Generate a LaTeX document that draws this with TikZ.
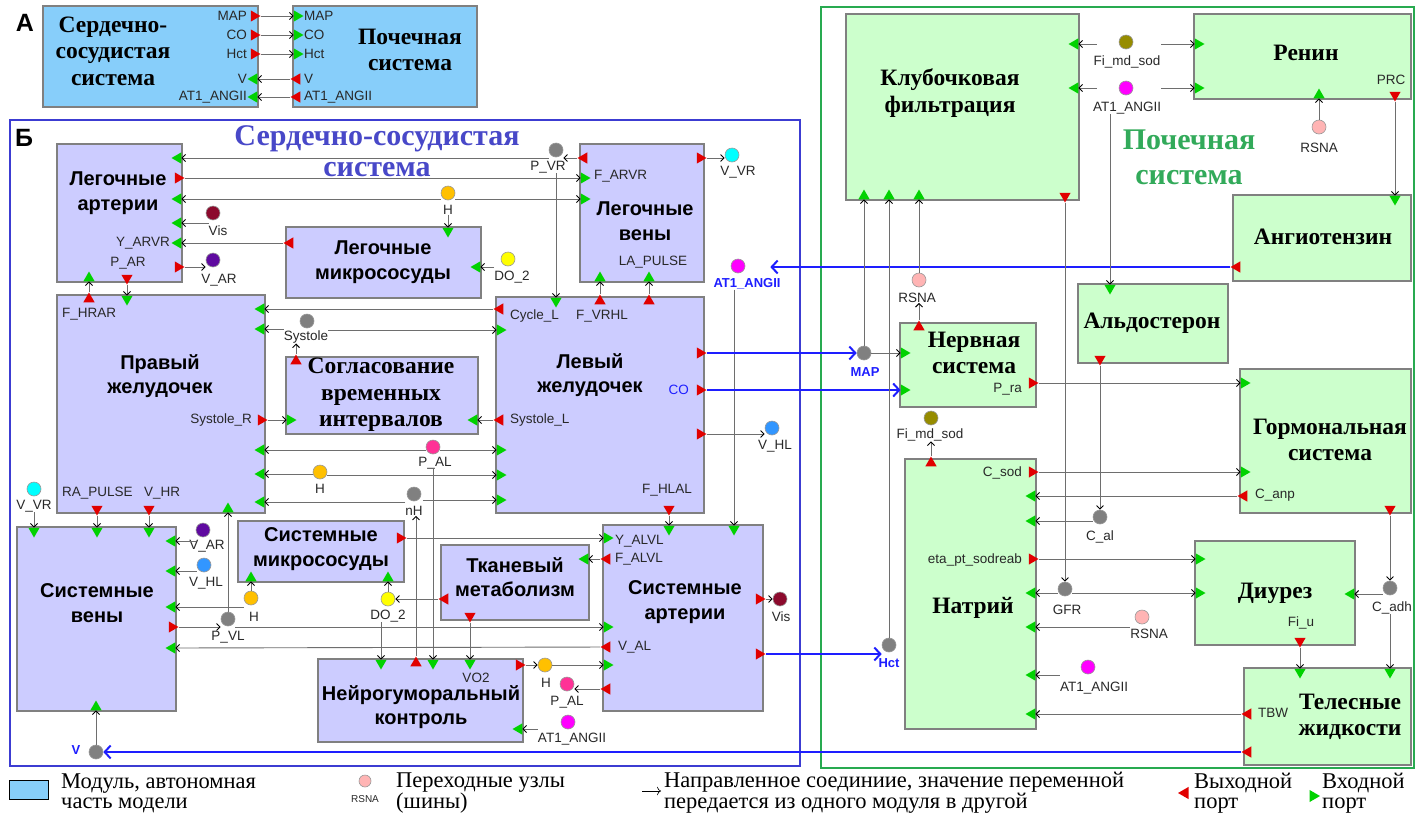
\documentclass[tikz,border=0pt]{standalone}
\usepackage{fontspec}
\setmainfont{Liberation Serif}
\setsansfont{Liberation Sans}
\usetikzlibrary{shapes.geometric,arrows.meta,fit,calc}

\definecolor{skyfill}{RGB}{135,206,250}
\definecolor{cvfill}{RGB}{204,204,255}
\definecolor{renfill}{RGB}{204,255,204}
\definecolor{boxgray}{RGB}{128,128,128}
\definecolor{frameblue}{RGB}{60,60,210}
\definecolor{framegreen}{RGB}{40,170,80}
\definecolor{titblue}{RGB}{72,72,200}
\definecolor{titgreen}{RGB}{50,170,90}
\definecolor{linkblue}{RGB}{30,30,255}
\definecolor{linegray}{RGB}{110,110,110}
\definecolor{txtgray}{RGB}{40,40,40}
\definecolor{pred}{RGB}{225,0,0}
\definecolor{pgreen}{RGB}{0,210,0}
\definecolor{bgray}{RGB}{128,128,128}
\definecolor{borange}{RGB}{255,192,0}
\definecolor{bdarkred}{RGB}{140,10,45}
\definecolor{bpurple}{RGB}{95,10,160}
\definecolor{bcyan}{RGB}{0,255,255}
\definecolor{byellow}{RGB}{255,255,0}
\definecolor{bmagenta}{RGB}{255,0,255}
\definecolor{bpink}{RGB}{255,50,150}
\definecolor{bblue}{RGB}{50,150,255}
\definecolor{bolive}{RGB}{150,140,0}
\definecolor{brsna}{RGB}{255,180,180}

\begin{document}
\begin{tikzpicture}[x=1pt,y=-1pt]

\tikzstyle{amod} = [draw=boxgray, fill=skyfill, line width=1.3pt, inner sep=0pt]
\tikzstyle{cmod} = [draw=boxgray, fill=cvfill, line width=1.3pt, inner sep=0pt]
\tikzstyle{rmod} = [draw=boxgray, fill=renfill, line width=1.3pt, inner sep=0pt]
\tikzstyle{stit} = [font=\sffamily\bfseries\fontsize{20}{24.5}\selectfont, align=center, inner sep=0pt]
\tikzstyle{rtit} = [font=\rmfamily\bfseries\fontsize{23.5}{26.5}\selectfont, align=center, inner sep=0pt]
\tikzstyle{dummy} = [font=\sffamily\fontsize{13.5}{14}\selectfont, text=txtgray, inner sep=0pt]
\tikzstyle{blab} = [font=\sffamily\bfseries\fontsize{13}{14}\selectfont, text=linkblue, inner sep=0pt]
\tikzstyle{bus} = [circle, draw=black!40, minimum size=14pt, inner sep=0pt, line width=0.6pt]
\tikzstyle{port} = [regular polygon, regular polygon sides=3, inner sep=0pt, minimum size=13pt]
\tikzstyle{inR} = [port, rotate=-90, fill=pgreen]
\tikzstyle{inL} = [port, rotate=90, fill=pgreen]
\tikzstyle{inU} = [port, fill=pgreen]
\tikzstyle{inD} = [port, rotate=180, fill=pgreen]
\tikzstyle{outR} = [port, rotate=-90, fill=pred]
\tikzstyle{outL} = [port, rotate=90, fill=pred]
\tikzstyle{outU} = [port, fill=pred]
\tikzstyle{outD} = [port, rotate=180, fill=pred]
\tikzstyle{conn} = [draw=linegray, line width=0.9pt, -{Straight Barb[length=3.5pt,width=7pt,color=black]}]
\tikzstyle{bconn} = [draw=linkblue, line width=2pt, -{Straight Barb[length=6pt,width=13pt]}]
\tikzstyle{legtxt} = [font=\rmfamily\fontsize{22.5}{20}\selectfont, align=left, anchor=west, inner sep=0pt]

\path[use as bounding box, fill=white] (0,0) rectangle (1418,825);

% panel A
\node[font=\sffamily\bfseries\fontsize{25}{25}\selectfont, inner sep=0pt] at (25,23) (labA) {А};
\node[amod, fit={(43,6) (258,107)}] (acv) {};
\node[amod, fit={(293,6) (477,107)}] (aren) {};
\node[rtit] at (113,51) (tacv) {Сердечно-\\сосудистая\\система};
\node[rtit] at (410,50) (taren) {Почечная\\система};

\node[outR] at (254,16) (ao1) {};
\node[outR] at (254,35) (ao2) {};
\node[outR] at (254,54) (ao3) {};
\node[inL] at (254,79) (ai4) {};
\node[inL] at (254,97) (ai5) {};
\node[inR] at (297,16) (ai1) {};
\node[inR] at (297,35) (ai2) {};
\node[inR] at (297,54) (ai3) {};
\node[outL] at (297,79) (ao4) {};
\node[outL] at (297,97) (ao5) {};
\node[dummy, anchor=east] at (247,16) (da1) {MAP};
\node[dummy, anchor=east] at (247,35) (da2) {CO};
\node[dummy, anchor=east] at (247,54) (da3) {Hct};
\node[dummy, anchor=east] at (247,79) (da4) {V};
\node[dummy, anchor=east] at (247,97) (da5) {AT1\_ANGII};
\node[dummy, anchor=west] at (304,16) (db1) {MAP};
\node[dummy, anchor=west] at (304,35) (db2) {CO};
\node[dummy, anchor=west] at (304,54) (db3) {Hct};
\node[dummy, anchor=west] at (304,79) (db4) {V};
\node[dummy, anchor=west] at (304,97) (db5) {AT1\_ANGII};
\path (ao1) edge[conn] (ai1);
\path (ao2) edge[conn] (ai2);
\path (ao3) edge[conn] (ai3);
\path (ao4) edge[conn] (ai4);
\path (ao5) edge[conn] (ai5);

% frames of panel B
\node[draw=frameblue, line width=1.6pt, inner sep=0pt, fit={(10,120) (800,766)}] (fcv) {};
\node[draw=framegreen, line width=1.6pt, inner sep=0pt, fit={(821,7) (1414,768)}] (fren) {};
\node[font=\sffamily\bfseries\fontsize{25}{25}\selectfont, inner sep=0pt] at (24,138) (labB) {Б};
\node[font=\rmfamily\bfseries\fontsize{30}{31}\selectfont, text=titblue, align=center, inner sep=0pt] at (377,151) (tcv) {Сердечно-сосудистая\\система};
\node[font=\rmfamily\bfseries\fontsize{30}{35}\selectfont, text=titgreen, align=center, inner sep=0pt] at (1189,157) (tren) {Почечная\\система};

% cardiovascular modules
\node[cmod, fit={(57,144) (182,282)}] (la) {};
\node[cmod, fit={(286,227) (481,298)}] (lmc) {};
\node[cmod, fit={(580,144) (704,282)}] (lv) {};
\node[cmod, fit={(57,295) (265,513)}] (rv) {};
\node[cmod, fit={(286,357) (478,434)}] (sync) {};
\node[cmod, fit={(496,297) (704,513)}] (lvent) {};
\node[cmod, fit={(17,527) (176,711)}] (sv) {};
\node[cmod, fit={(238,521) (404,582)}] (smc) {};
\node[cmod, fit={(441,545) (589,620)}] (tm) {};
\node[cmod, fit={(318,659) (523,742)}] (nhc) {};
\node[cmod, fit={(603,525) (763,711)}] (sa) {};

\node[stit] at (118,193) (tla) {Легочные\\артерии};
\node[stit] at (383,262) (tlmc) {Легочные\\микрососуды};
\node[stit] at (645,221) (tlv) {Легочные\\вены};
\node[stit] at (160,376) (trv) {Правый\\желудочек};
\node[rtit] at (381,395) (tsync) {Согласование\\временных\\интервалов};
\node[stit] at (590,375) (tlvent) {Левый\\желудочек};
\node[stit] at (97,603) (tsv) {Системные\\вены};
\node[stit] at (321,549) (tsmc) {Системные\\микрососуды};
\node[stit] at (515,577) (ttm) {Тканевый\\метаболизм};
\node[stit] at (421,707) (tnhc) {Нейрогуморальный\\контроль};
\node[stit] at (685,602) (tsa) {Системные\\артерии};

% ports
\node[inL] at (178,158) (la-i1) {};
\node[outR] at (178,178) (la-o1) {};
\node[inL] at (178,199) (la-i2) {};
\node[inL] at (178,223) (la-i3) {};
\node[inL] at (178,243) (la-i4) {};
\node[outR] at (178,267) (la-o2) {};
\node[inU] at (89,278) (la-i5) {};
\node[outD] at (127,278) (la-o3) {};

\node[outU] at (89,299) (rv-o1) {};
\node[inD] at (127,299) (rv-i1) {};
\node[inL] at (261,309) (rv-i2) {};
\node[inL] at (261,329) (rv-i3) {};
\node[outR] at (261,420) (rv-o2) {};
\node[inL] at (261,450) (rv-i4) {};
\node[inL] at (261,474) (rv-i5) {};
\node[inL] at (261,502) (rv-i6) {};
\node[outD] at (97,509) (rv-o3) {};
\node[outD] at (149,509) (rv-o4) {};
\node[inU] at (228,509) (rv-i7) {};

\node[inD] at (34,531) (sv-i1) {};
\node[inD] at (97,531) (sv-i2) {};
\node[inD] at (149,531) (sv-i3) {};
\node[inL] at (172,541) (sv-i4) {};
\node[inL] at (172,571) (sv-i5) {};
\node[inL] at (172,607) (sv-i6) {};
\node[outR] at (172,627) (sv-o1) {};
\node[inL] at (172,648) (sv-i7) {};
\node[inU] at (96,707) (sv-i8) {};

\node[inD] at (448,231) (lmc-i1) {};
\node[outL] at (290,243) (lmc-o1) {};
\node[inL] at (477,267) (lmc-i2) {};

\node[outU] at (296,361) (sync-o1) {};
\node[inR] at (290,420) (sync-i1) {};
\node[inL] at (474,420) (sync-i2) {};

\node[inD] at (556,301) (lvent-i1) {};
\node[outU] at (600,301) (lvent-o1) {};
\node[outU] at (649,301) (lvent-o2) {};
\node[outL] at (500,309) (lvent-o3) {};
\node[inR] at (500,330) (lvent-i2) {};
\node[outR] at (700,353) (lvent-o4) {};
\node[outR] at (700,390) (lvent-o5) {};
\node[outL] at (500,420) (lvent-o6) {};
\node[outR] at (700,434) (lvent-o7) {};
\node[inR] at (500,450) (lvent-i3) {};
\node[inR] at (500,475) (lvent-i4) {};
\node[inR] at (500,500) (lvent-i5) {};
\node[outD] at (669,509) (lvent-o8) {};

\node[outL] at (584,158) (lv-o1) {};
\node[inR] at (584,178) (lv-i1) {};
\node[inR] at (584,199) (lv-i2) {};
\node[outR] at (700,158) (lv-o2) {};
\node[inU] at (600,278) (lv-i3) {};
\node[inU] at (649,278) (lv-i4) {};

\node[outR] at (400,538) (smc-o1) {};
\node[inU] at (251,578) (smc-i1) {};
\node[inU] at (388,578) (smc-i2) {};

\node[outL] at (445,599) (tm-o1) {};
\node[inL] at (585,559) (tm-i1) {};
\node[outD] at (470,616) (tm-o2) {};

\node[inD] at (381,663) (nhc-i1) {};
\node[outU] at (416,663) (nhc-o1) {};
\node[inD] at (433,663) (nhc-i2) {};
\node[inD] at (470,663) (nhc-i3) {};
\node[outR] at (519,665) (nhc-o2) {};
\node[inL] at (519,729) (nhc-i4) {};

\node[inD] at (669,529) (sa-i1) {};
\node[inD] at (734,529) (sa-i2) {};
\node[inR] at (607,538) (sa-i3) {};
\node[outL] at (607,559) (sa-o1) {};
\node[inR] at (607,627) (sa-i4) {};
\node[outL] at (607,647) (sa-o2) {};
\node[inR] at (607,665) (sa-i5) {};
\node[outL] at (607,689) (sa-o3) {};
\node[outR] at (759,599) (sa-o4) {};
\node[outR] at (759,654) (sa-o5) {};

% port labels
\node[dummy, anchor=east] at (170,243) (dyarvr) {Y\_ARVR};
\node[dummy] at (128,263) (dpar) {P\_AR};
\node[dummy, anchor=west] at (62,314) (dfhrar) {F\_HRAR};
\node[dummy, anchor=east] at (252,420) (dsysr) {Systole\_R};
\node[dummy, anchor=west] at (62,493) (drap) {RA\_PULSE};
\node[dummy, anchor=west] at (144,493) (dvhr) {V\_HR};
\node[dummy, anchor=west] at (510,316) (dcyc) {Cycle\_L};
\node[dummy, anchor=west] at (576,316) (dfvrhl) {F\_VRHL};
\node[dummy, anchor=east, text=linkblue] at (689,390) (dco) {CO};
\node[dummy, anchor=west] at (510,420) (dsysl) {Systole\_L};
\node[dummy] at (667,490) (dfhlal) {F\_HLAL};
\node[dummy, anchor=west] at (594,176) (dfarvr) {F\_ARVR};
\node[dummy] at (653,262) (dlap) {LA\_PULSE};
\node[dummy] at (476,678) (dvo2) {VO2};
\node[dummy, anchor=west] at (615,541) (dyalvl) {Y\_ALVL};
\node[dummy, anchor=west] at (615,559) (dfalvl) {F\_ALVL};
\node[dummy, anchor=west] at (618,647) (dval) {V\_AL};

% buses
\node[bus, fill=bgray] at (556,150) (pvr) {};
\node[dummy] at (548,167) (dpvr) {P\_VR};
\node[bus, fill=bcyan] at (732,155) (vvr1) {};
\node[dummy] at (738,172) (dvvr1) {V\_VR};
\node[bus, fill=borange] at (448,193) (h1) {};
\node[dummy] at (448,210) (dh1) {H};
\node[bus, fill=bdarkred] at (213,213) (vis1) {};
\node[dummy] at (218,231) (dvis1) {Vis};
\node[bus, fill=bpurple] at (213,260) (var1) {};
\node[dummy] at (219,280) (dvar1) {V\_AR};
\node[bus, fill=byellow] at (508,259) (do1) {};
\node[dummy] at (512,277) (ddo1) {DO\_2};
\node[bus, fill=bmagenta] at (738,266) (at1) {};
\node[blab] at (747,284) (dat1) {AT1\_ANGII};
\node[bus, fill=bgray] at (307,321) (sys) {};
\node[dummy] at (306,337) (dsys) {Systole};
\node[bus, fill=bpink] at (433,447) (pal1) {};
\node[dummy] at (435,463) (dpal1) {P\_AL};
\node[bus, fill=borange] at (320,472) (h2) {};
\node[dummy] at (320,489) (dh2) {H};
\node[bus, fill=bgray] at (414,494) (nh) {};
\node[dummy] at (414,511) (dnh) {nH};
\node[bus, fill=bblue] at (772,428) (vhl1) {};
\node[dummy] at (775,446) (dvhl1) {V\_HL};
\node[bus, fill=bcyan] at (34,489) (vvr2) {};
\node[dummy] at (34,506) (dvvr2) {V\_VR};
\node[bus, fill=bpurple] at (203,530) (var2) {};
\node[dummy] at (207,546) (dvar2) {V\_AR};
\node[bus, fill=bblue] at (204,565) (vhl2) {};
\node[dummy] at (206,583) (dvhl2) {V\_HL};
\node[bus, fill=borange] at (251,598) (h3) {};
\node[dummy] at (254,617) (dh3) {H};
\node[bus, fill=bgray] at (228,619) (pvl) {};
\node[dummy] at (228,637) (dpvl) {P\_VL};
\node[bus, fill=byellow] at (388,599) (do2) {};
\node[dummy] at (388,616) (ddo2) {DO\_2};
\node[bus, fill=bgray] at (96,752) (v) {};
\node[blab] at (76,750) (dv) {V};
\node[bus, fill=borange] at (545,665) (h4) {};
\node[dummy] at (546,683) (dh4) {H};
\node[bus, fill=bpink] at (567,684) (pal2) {};
\node[dummy] at (567,702) (dpal2) {P\_AL};
\node[bus, fill=bmagenta] at (568,722) (at2) {};
\node[dummy] at (572,739) (dat2) {AT1\_ANGII};
\node[bus, fill=bdarkred] at (780,599) (vis2) {};
\node[dummy] at (781,617) (dvis2) {Vis};

% renal modules
\node[rmod, fit={(846,14) (1079,200)}] (klub) {};
\node[rmod, fit={(1194,14) (1411,99)}] (ren) {};
\node[rmod, fit={(1233,195) (1411,281)}] (ang) {};
\node[rmod, fit={(1078,284) (1228,363)}] (ald) {};
\node[rmod, fit={(900,323) (1036,407)}] (ns) {};
\node[rmod, fit={(1240,369) (1411,513)}] (horm) {};
\node[rmod, fit={(905,459) (1036,729)}] (na) {};
\node[rmod, fit={(1195,541) (1355,645)}] (diur) {};
\node[rmod, fit={(1244,668) (1411,765)}] (tel) {};

\node[rtit] at (950,93) (tklub) {Клубочковая\\фильтрация};
\node[rtit] at (1306,53) (tren2) {Ренин};
\node[rtit] at (1323,237) (tang) {Ангиотензин};
\node[rtit] at (1152,323) (tald) {Альдостерон};
\node[rtit] at (974,353) (tns) {Нервная\\система};
\node[rtit] at (1330,440) (thorm) {Гормональная\\система};
\node[rtit] at (973,608) (tna) {Натрий};
\node[rtit] at (1275,593) (tdiur) {Диурез};
\node[rtit] at (1350,717) (ttel) {Телесные\\жидкости};

\node[inL] at (1075,44) (klub-i1) {};
\node[inL] at (1075,88) (klub-i2) {};
\node[inU] at (864,196) (klub-i3) {};
\node[inU] at (889,196) (klub-i4) {};
\node[inU] at (919,196) (klub-i5) {};
\node[outD] at (1065,196) (klub-o1) {};
\node[inR] at (1198,44) (ren-i1) {};
\node[inR] at (1198,88) (ren-i2) {};
\node[inU] at (1319,95) (ren-i3) {};
\node[outD] at (1395,95) (ren-o1) {};
\node[inD] at (1395,199) (ang-i1) {};
\node[outL] at (1237,267) (ang-o1) {};
\node[inD] at (1110,288) (ald-i1) {};
\node[outD] at (1100,359) (ald-o1) {};
\node[outU] at (919,327) (ns-o1) {};
\node[inR] at (904,353) (ns-i1) {};
\node[inR] at (904,390) (ns-i2) {};
\node[outR] at (1032,383) (ns-o2) {};
\node[inR] at (1244,383) (horm-i1) {};
\node[inR] at (1244,472) (horm-i2) {};
\node[outL] at (1244,496) (horm-o1) {};
\node[outD] at (1390,509) (horm-o2) {};
\node[outU] at (931,463) (na-o1) {};
\node[outR] at (1032,472) (na-o2) {};
\node[inL] at (1032,496) (na-i1) {};
\node[inL] at (1032,521) (na-i2) {};
\node[outR] at (1032,559) (na-o3) {};
\node[inL] at (1032,593) (na-i3) {};
\node[inL] at (1032,627) (na-i4) {};
\node[inL] at (1032,675) (na-i5) {};
\node[inL] at (1032,714) (na-i6) {};
\node[inR] at (1199,559) (diur-i1) {};
\node[inR] at (1199,593) (diur-i2) {};
\node[inL] at (1351,594) (diur-i3) {};
\node[outD] at (1300,641) (diur-o1) {};
\node[inD] at (1300,672) (tel-i1) {};
\node[inD] at (1390,672) (tel-i2) {};
\node[outL] at (1248,714) (tel-o1) {};
\node[outL] at (1248,752) (tel-o2) {};

\node[dummy] at (1391,80) (dprc) {PRC};
\node[dummy, anchor=east] at (1022,389) (dpra) {P\_ra};
\node[dummy, anchor=west] at (1255,495) (dcanp) {C\_anp};
\node[dummy, anchor=east] at (1022,473) (dcsod) {C\_sod};
\node[dummy, anchor=east] at (1022,560) (deta) {eta\_pt\_sodreab};
\node[dummy] at (1301,623) (dfiu) {Fi\_u};
\node[dummy, anchor=west] at (1258,713) (dtbw) {TBW};

\node[bus, fill=bolive] at (1126,42) (fimd1) {};
\node[dummy] at (1127,62) (dfimd1) {Fi\_md\_sod};
\node[bus, fill=bmagenta] at (1126,88) (at3) {};
\node[dummy] at (1127,108) (dat3) {AT1\_ANGII};
\node[bus, fill=brsna] at (1319,127) (rsna1) {};
\node[dummy] at (1319,148) (drsna1) {RSNA};
\node[bus, fill=bgray] at (864,353) (map) {};
\node[blab] at (865,372) (dmap) {MAP};
\node[bus, fill=brsna] at (919,280) (rsna2) {};
\node[dummy] at (917,298) (drsna2) {RSNA};
\node[bus, fill=bolive] at (931,418) (fimd2) {};
\node[dummy] at (930,435) (dfimd2) {Fi\_md\_sod};
\node[bus, fill=bgray] at (1100,517) (cal) {};
\node[dummy] at (1100,537) (dcal) {C\_al};
\node[bus, fill=bgray] at (1065,589) (gfr) {};
\node[dummy] at (1067,610) (dgfr) {GFR};
\node[bus, fill=brsna] at (1142,617) (rsna3) {};
\node[dummy] at (1149,634) (drsna3) {RSNA};
\node[bus, fill=bgray] at (1390,588) (cadh) {};
\node[dummy] at (1392,608) (dcadh) {C\_adh};
\node[bus, fill=bmagenta] at (1088,667) (at4) {};
\node[dummy] at (1094,688) (dat4) {AT1\_ANGII};
\node[bus, fill=bgray] at (889,645) (hct) {};
\node[blab] at (889,663) (dhct) {Hct};

% connections, cardiovascular
\path (lv-o1) edge[conn] (pvr.east |- lv-o1);
\path (pvr.west |- la-i1) edge[conn] (la-i1);
\path (pvr |- dpvr.south) edge[conn] (lvent-i1);
\path (la-o1) edge[conn] (lv-i1);
\path (h1.west |- la-i2) edge[conn] (la-i2);
\path (h1.east |- lv-i2) edge[conn] (lv-i2);
\path (h1 |- dh1.south) edge[conn] (lmc-i1);
\path (dvis1.west |- la-i3) edge[conn] (la-i3);
\path (lmc-o1) edge[conn] (la-i4);
\path (la-o2) edge[conn] (var1.west |- la-o2);
\path (rv-o1) edge[conn] (la-i5);
\path (la-o3) edge[conn] (rv-i1);
\path (lvent-o3) edge[conn] (rv-i2);
\path (dsys.west |- rv-i3) edge[conn] (rv-i3);
\path (dsys.east |- lvent-i2) edge[conn] (lvent-i2);
\path (sync-o1) edge[conn] (sync-o1 |- dsys.south);
\path (rv-o2) edge[conn] (sync-i1);
\path (lvent-o6) edge[conn] (sync-i2);
\path (pal1.west |- rv-i4) edge[conn] (rv-i4);
\path (pal1.east |- lvent-i3) edge[conn] (lvent-i3);
\path (pal1 |- dpal1.south) edge[conn] (nhc-i2);
\path (h2.west |- rv-i5) edge[conn] (rv-i5);
\path (h2.east |- lvent-i4) edge[conn] (lvent-i4);
\path (dnh.west |- rv-i6) edge[conn] (rv-i6);
\path (dnh.east |- lvent-i5) edge[conn] (lvent-i5);
\path (nhc-o1) edge[conn] (nhc-o1 |- dnh.south);
\path (rv-o3) edge[conn] (sv-i2);
\path (rv-o4) edge[conn] (sv-i3);
\path (vvr2 |- dvvr2.south) edge[conn] (sv-i1);
\path (var2.west |- sv-i4) edge[conn] (sv-i4);
\path (vhl2.west |- sv-i5) edge[conn] (sv-i5);
\path (h3.west |- sv-i6) edge[conn] (sv-i6);
\path (h3) edge[conn] (smc-i1);
\path (sv-o1) edge[conn] (pvl.west |- sv-o1);
\path (pvl) edge[conn] (rv-i7);
\path (pvl.east |- sa-i4) edge[conn] (sa-i4);
\path (sa-o2) edge[conn] (sv-i7);
\path (v) edge[conn] (sv-i8);
\path (do2) edge[conn] (smc-i2);
\path (tm-o1) edge[conn] (do2);
\path (ddo2.south -| nhc-i1) edge[conn] (nhc-i1);
\path (tm-o2) edge[conn] (nhc-i3);
\path (smc-o1) edge[conn] (sa-i3);
\path (sa-o1) edge[conn] (tm-i1);
\path (lvent-o8) edge[conn] (sa-i1);
\path (dat1.south -| sa-i2) edge[conn] (sa-i2);
\path (nhc-o2) edge[conn] (h4);
\path (h4) edge[conn] (sa-i5);
\path (sa-o3) edge[conn] (pal2.east |- sa-o3);
\path (dat2.west |- nhc-i4) edge[conn] (nhc-i4);
\path (sa-o4) edge[conn] (vis2);
\path (lv-o2) edge[conn] (vvr1.west |- lv-o2);
\path (lvent-o7) edge[conn] (vhl1.west |- lvent-o7);
\path (lvent-o1) edge[conn] (lv-i3);
\path (lvent-o2) edge[conn] (lv-i4);
\path (ddo1.west |- lmc-i2) edge[conn] (lmc-i2);

% connections between the systems
\path (lvent-o4) edge[bconn] (map.west |- lvent-o4);
\path (lvent-o5) edge[bconn] (ns-i2);
\path (sa-o5) edge[bconn] (hct.west |- sa-o5);
\path (ang-o1) edge[bconn] ($(at1.east |- ang-o1)+(25,0)$);
\path (tel-o2) edge[bconn] (v);

% connections, renal
\path ($(fimd1.west |- klub-i1)+(-22,0)$) edge[conn] (klub-i1);
\path ($(fimd1.east |- ren-i1)+(28,0)$) edge[conn] (ren-i1);
\path ($(at3.west |- klub-i2)+(-22,0)$) edge[conn] (klub-i2);
\path ($(at3.east |- ren-i2)+(28,0)$) edge[conn] (ren-i2);
\path (dat3.south -| ald-i1) edge[conn] (ald-i1);
\path (rsna1) edge[conn] (ren-i3);
\path (ren-o1) edge[conn] (ang-i1);
\path (map) edge[conn] (klub-i3);
\path (map) edge[conn] (ns-i1);
\path (hct) edge[conn] (klub-i4);
\path (rsna2) edge[conn] (klub-i5);
\path (ns-o1) edge[conn] (ns-o1 |- drsna2.south);
\path (ns-o2) edge[conn] (horm-i1);
\path (klub-o1) edge[conn] (gfr);
\path (gfr.west |- na-i3) edge[conn] (na-i3);
\path (gfr.east |- diur-i2) edge[conn] (diur-i2);
\path (ald-o1) edge[conn] (cal);
\path (cal.west |- na-i2) edge[conn] (na-i2);
\path (na-o2) edge[conn] (horm-i2);
\path (horm-o1) edge[conn] (na-i1);
\path (na-o3) edge[conn] (diur-i1);
\path (drsna3.west |- na-i4) edge[conn] (na-i4);
\path (dat4.west |- na-i5) edge[conn] (na-i5);
\path (tel-o1) edge[conn] (na-i6);
\path (horm-o2) edge[conn] (cadh);
\path (cadh.west |- diur-i3) edge[conn] (diur-i3);
\path (dcadh.south -| tel-i2) edge[conn] (tel-i2);
\path (diur-o1) edge[conn] (tel-i1);
\path (na-o1) edge[conn] (na-o1 |- dfimd2.south);

% legend
\node[draw=black, fill=skyfill, line width=1.2pt, minimum width=39pt, minimum height=19pt, inner sep=0pt] at (29,790) (lgbox) {};
\node[legtxt] at (61,793) (lgt1) {Модуль, автономная\\часть модели};
\node[bus, fill=brsna, minimum size=12pt] at (365,781) (lgbus) {};
\node[dummy, font=\sffamily\fontsize{10}{10}\selectfont] at (365,799) (lgrsna) {RSNA};
\node[legtxt] at (396,793) (lgt2) {Переходные узлы\\(шины)};
\coordinate (lga1) at (642,791);
\coordinate (lga2) at (661,791);
\path (lga1) edge[-{To[length=4pt]}, line width=0.6pt] (lga2);
\node[legtxt] at (664,793) (lgt3) {Направленное соединиие, значение переменной\\передается из одного модуля в другой};
\node[outL, minimum size=14pt] at (1185,793) (lgout) {};
\node[legtxt] at (1194,793) (lgt4) {Выходной\\порт};
\node[inR, minimum size=14pt] at (1313,796) (lgin) {};
\node[legtxt] at (1322,793) (lgt5) {Входной\\порт};

\end{tikzpicture}
\end{document}
